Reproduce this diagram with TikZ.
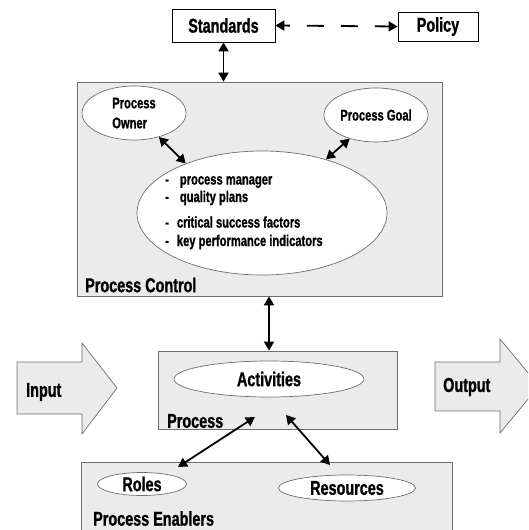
\documentclass[tikz,border=0pt]{standalone}
\usepackage{fontspec}
\setmainfont{Liberation Sans}[FakeStretch=0.72, BoldFeatures={FakeBold=1}]
\usepackage{xcolor}
\usepackage{tikz}
\usetikzlibrary{arrows.meta}
\usetikzlibrary{shapes.geometric}

\definecolor{panelgray}{HTML}{EBEBEB}
\definecolor{rimgray}{HTML}{6E6E6E}

\tikzset{
  biglabel/.style={font=\bfseries\fontsize{20}{22}\selectfont, inner sep=0pt},
  smalllabel/.style={font=\bfseries\fontsize{15.5}{18}\selectfont, inner sep=0pt},
  namebox/.style={draw=black, line width=0.8pt, fill=white, inner sep=0pt},
  panel/.style={draw=rimgray, fill=panelgray, line width=0.8pt, inner sep=0pt},
  bubble/.style={ellipse, draw=rimgray, fill=white, line width=0.7pt, inner sep=0pt},
  bigarrow/.style={draw=rimgray, fill=panelgray, line width=0.7pt},
  twoway/.style={{Triangle[length=9pt,width=10pt]}-{Triangle[length=9pt,width=10pt]}, line width=1.8pt}
}

\begin{document}
\begin{tikzpicture}[x=1pt, y=-1pt]
\useasboundingbox (0,0) rectangle (528,530);
\clip (0,0) rectangle (528,530);

% top boxes
\node[namebox, biglabel, minimum width=103pt, minimum height=33pt] (std) at (223.5,25.5) {Standards};
\node[namebox, biglabel, minimum width=80pt, minimum height=29pt] (pol) at (438,26.5) {Policy};

% process control
\node[panel, minimum width=365pt, minimum height=214pt] (ctrl) at (259.5,189) {};
\node[bubble, smalllabel, align=left, minimum width=104pt, minimum height=54pt] (owner) at (134,113) {Process\\[2pt]Owner};
\node[bubble, smalllabel, minimum width=104pt, minimum height=54pt] (goal) at (376,115) {Process Goal};
\node[bubble, minimum width=250pt, minimum height=124pt] (core) at (262,213) {};
\foreach \y/\g/\t [count=\i] in {182/11/process manager, 198/11/quality plans, 222/8/critical success factors, 242/8/key performance indicators}
  \node[smalllabel, anchor=west] (item\i) at (165,\y) {-\hspace{\g pt}\t};
\node[biglabel, anchor=west] (ctrltxt) at (85,285) {Process Control};

% process
\node[panel, minimum width=239pt, minimum height=78pt] (proc) at (277.5,390) {};
\node[bubble, biglabel, minimum width=190pt, minimum height=36pt] (act) at (269,379) {Activities};
\node[biglabel, anchor=west] (proctxt) at (167,421) {Process};

% input / output
\draw[bigarrow] (17,362) -- (82,362) -- (82,343) -- (117,388) -- (82,434) -- (82,414) -- (17,414) -- cycle;
\node[biglabel, anchor=west] (inp) at (26,392) {Input};
\draw[bigarrow] (435,362) -- (500,362) -- (500,339) -- (539,386) -- (500,433) -- (500,411) -- (435,411) -- cycle;
\node[biglabel, anchor=west] (outp) at (443,387) {Output};

% process enablers
\node[panel, minimum width=371pt, minimum height=90pt] (enab) at (266.5,507) {};
\node[bubble, biglabel, minimum width=89pt, minimum height=23pt] (roles) at (142,484) {Roles};
\node[bubble, biglabel, minimum width=137pt, minimum height=26pt] (res) at (347,488) {Resources};
\node[biglabel, anchor=west] (enabtxt) at (93,518.5) {Process Enablers};

% connectors
\draw[twoway] (std.south) -- (std.south |- ctrl.north);
\draw[twoway, dash pattern=on 17pt off 17pt, dash phase=11pt] (std.east) -- (pol.west);
\draw[twoway] (owner.-44) -- (core.147);
\draw[twoway] (goal.-138) -- (core.40);
\draw[twoway] (act.north |- ctrl.south) -- (act.north |- proc.north);
\coordinate (rolesfoot) at (255,417);
\coordinate (rolestop) at (178,467);
\coordinate (resfoot) at (286,415);
\coordinate (restop) at (330,465);
\draw[twoway] (rolesfoot) -- (rolestop);
\draw[twoway] (resfoot) -- (restop);
\end{tikzpicture}
\end{document}
